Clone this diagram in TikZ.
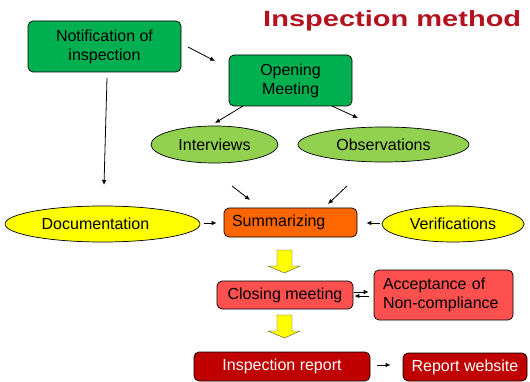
\documentclass[tikz,border=0pt]{standalone}
\usepackage{fontspec}
\setmainfont{Liberation Sans}
\usetikzlibrary{arrows.meta,shapes.geometric}

\definecolor{boxgreen}{HTML}{00B050}
\definecolor{ovalgreen}{HTML}{92D050}
\definecolor{ovalyellow}{HTML}{FFFF00}
\definecolor{sumorange}{HTML}{FF6600}
\definecolor{closered}{HTML}{FF5050}
\definecolor{reportred}{HTML}{C00000}
\definecolor{titlered}{HTML}{B4121E}

\begin{document}
\begin{tikzpicture}[
    x=1pt, y=-1pt,
    every node/.style={font=\fontsize{16}{19}\selectfont},
    stagebox/.style={draw=black, line width=0.7pt, rounded corners=5pt,
        inner sep=0pt, align=center},
    oval/.style={ellipse, draw=black, line width=0.7pt, inner sep=0pt},
    conn/.style={line width=0.8pt, -{Latex[length=5pt,width=4.5pt]}},
    fatarrow/.style={fill=ovalyellow, draw=black!70, line width=0.4pt},
]

\useasboundingbox (0,0) rectangle (530,382);

% ── Title ───────────────────────────────────────────────────
\node[anchor=base west, inner sep=0pt, text=titlered,
    font=\fontsize{22}{26}\selectfont\bfseries] (title) at (263,27)
    {\resizebox{258pt}{16pt}{Inspection method}};

% ── Planning stage ──────────────────────────────────────────
\node[stagebox, fill=boxgreen, minimum width=153, minimum height=51]
    (notif) at (104.5,46.5) {Notification of\\inspection};
\node[stagebox, fill=boxgreen, minimum width=123, minimum height=51]
    (open) at (290.5,80.5) {Opening\\Meeting};

% ── Evidence gathering ──────────────────────────────────────
\node[oval, fill=ovalgreen, minimum width=127, minimum height=37]
    (intv) at (214.5,144.5) {Interviews};
\node[oval, fill=ovalgreen, minimum width=171, minimum height=35]
    (obs) at (383.5,144.5) {Observations};
\node[oval, fill=ovalyellow, minimum width=195, minimum height=36]
    (doc) at (102.5,224) {Documentation\hspace*{14pt}};
\node[oval, fill=ovalyellow, minimum width=142, minimum height=36]
    (verif) at (453,224) {Verifications};

\node[stagebox, fill=sumorange, minimum height=29, inner xsep=8pt,
    text width=117, align=left] (summ) at (290.5,222.5) {Summarizing};

% ── Closing ─────────────────────────────────────────────────
\node[stagebox, fill=closered, minimum width=136, minimum height=28]
    (close) at (285,295) {Closing meeting};
\node[stagebox, fill=closered, minimum height=50, inner xsep=9pt,
    text width=121, align=left] (accept) at (443.5,295)
    {Acceptance of\\Non-compliance};

\node[stagebox, fill=reportred, text=white, minimum width=176, minimum height=29]
    (report) at (282,366.5) {Inspection report};
\node[stagebox, fill=reportred, text=white, minimum width=124, minimum height=28]
    (web) at (465,367) {Report website};

% ── Connectors ──────────────────────────────────────────────
\coordinate (n2o-a) at (188,47);   \coordinate (n2o-b) at (215,61);
\coordinate (n2d-a) at (107,78);   \coordinate (n2d-b) at (104,185);
\coordinate (o2i-a) at (243,106);  \coordinate (o2i-b) at (215,123);
\coordinate (o2b-a) at (332,106);  \coordinate (o2b-b) at (358,118);
\coordinate (i2s-a) at (232,186);  \coordinate (i2s-b) at (250,200);
\coordinate (b2s-a) at (347,186);  \coordinate (b2s-b) at (328,204);

\draw[conn] (n2o-a) -- (n2o-b);
\draw[conn] (n2d-a) -- (n2d-b);
\draw[conn] (o2i-a) -- (o2i-b);
\draw[conn] (o2b-a) -- (o2b-b);
\draw[conn] (i2s-a) -- (i2s-b);
\draw[conn] (b2s-a) -- (b2s-b);

\draw[conn, shorten <=4pt, shorten >=7pt] ([yshift=1pt]doc.east) -- ([yshift=-0.5pt]summ.west);
\draw[conn, shorten <=2pt, shorten >=9pt] ([yshift=1pt]verif.west) -- ([yshift=-0.5pt]summ.east);
\draw[conn, shorten <=1pt, shorten >=5pt] ([yshift=3pt]close.east) -- ([yshift=3pt]accept.west);
\draw[conn, shorten <=5pt, shorten >=1pt] ([yshift=-1pt]accept.west) -- ([yshift=-1pt]close.east);
\draw[conn, shorten <=7pt, shorten >=12pt] ([yshift=1.5pt]report.east) -- ([yshift=2pt]web.west);

% ── Block arrows between stages ─────────────────────────────
\foreach \ty in {250,315} {
    \draw[fatarrow] (277,\ty) -- (292,\ty) -- (292,\ty+16) -- (300,\ty+16)
        -- (284.5,\ty+23) -- (268,\ty+16) -- (277,\ty+16) -- cycle;
}

\end{tikzpicture}
\end{document}
